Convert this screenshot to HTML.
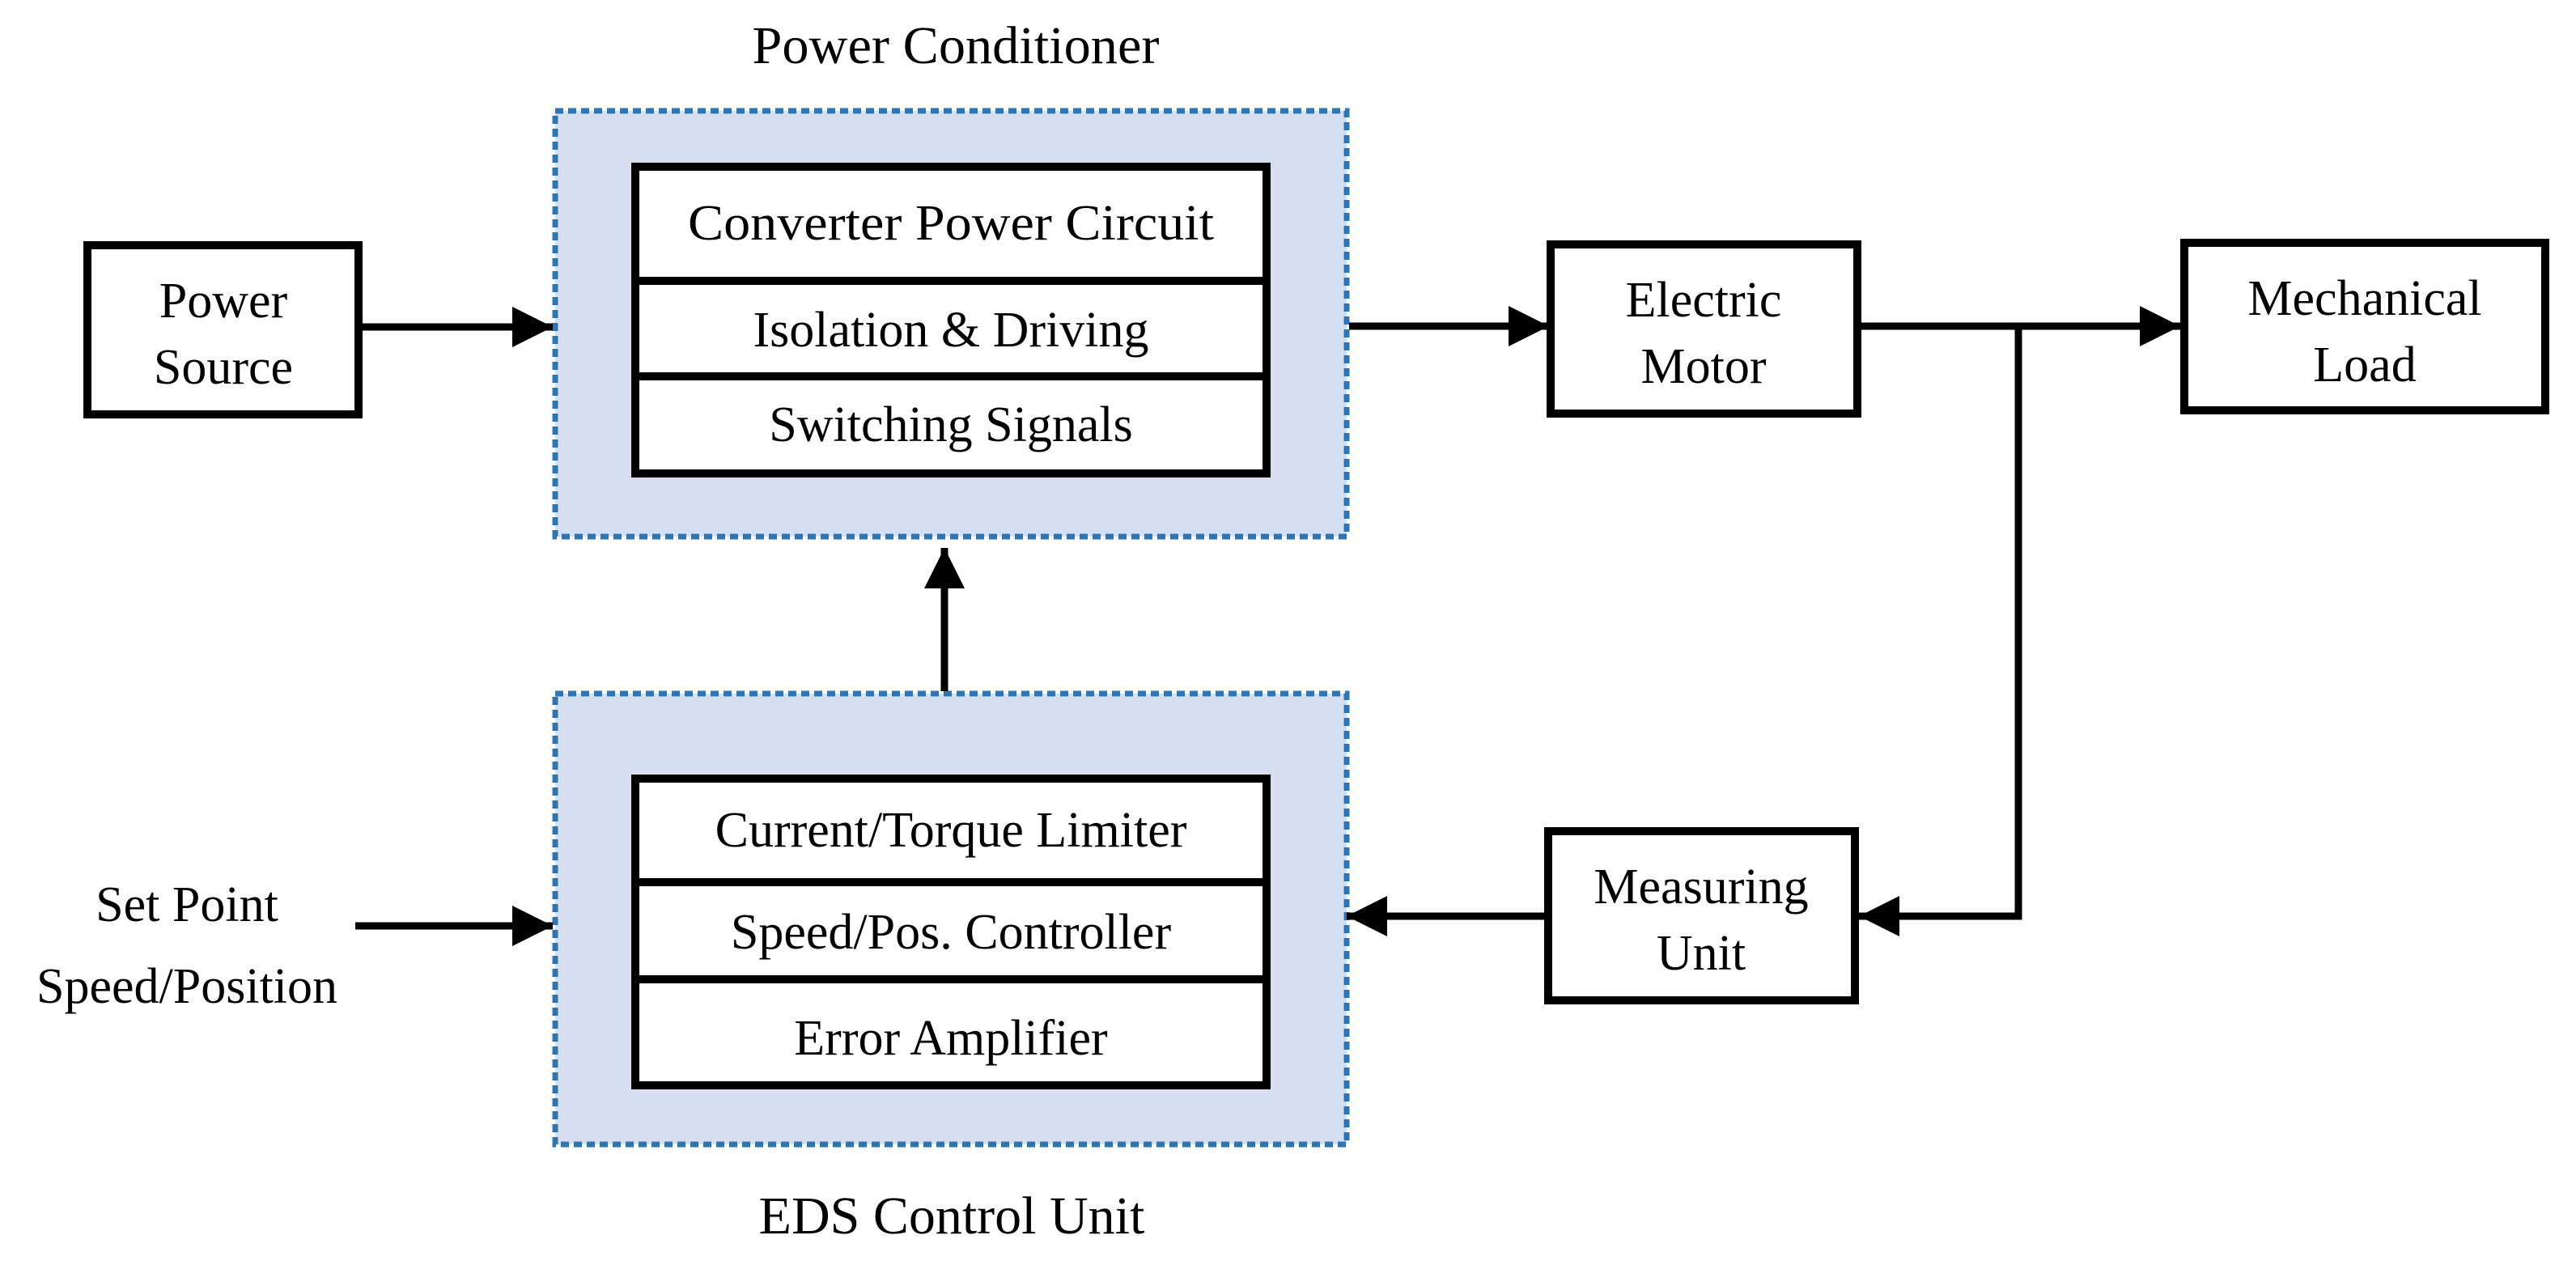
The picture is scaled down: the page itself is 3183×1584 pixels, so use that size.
<!DOCTYPE html>
<html><head><meta charset="utf-8"><style>
html,body{margin:0;padding:0;background:#fff;}
svg{display:block;}
text{font-family:"Liberation Serif",serif;fill:#000;}
</style></head><body>
<svg width="3183" height="1584" viewBox="0 0 3183 1584" xmlns="http://www.w3.org/2000/svg">
<defs>
<marker id="ah" viewBox="0 0 50 50" refX="50" refY="25" markerWidth="50" markerHeight="50" markerUnits="userSpaceOnUse" orient="auto">
<path d="M0,0 L50,25 L0,50 Z" fill="#000"/>
</marker>
</defs>
<rect x="686" y="137" width="978" height="526" fill="#d6dff0" stroke="#2e75b6" stroke-width="7" stroke-dasharray="10,6"/>
<rect x="686" y="857" width="978" height="557" fill="#d6dff0" stroke="#2e75b6" stroke-width="7" stroke-dasharray="10,6"/>

<g fill="#fff" stroke="#000" stroke-width="10">
<rect x="785" y="206" width="780" height="379"/>
<line x1="785" y1="347" x2="1565" y2="347"/>
<line x1="785" y1="465" x2="1565" y2="465"/>
<rect x="785" y="962" width="780" height="379"/>
<line x1="785" y1="1090" x2="1565" y2="1090"/>
<line x1="785" y1="1210" x2="1565" y2="1210"/>
<rect x="108" y="303" width="335" height="209"/>
<rect x="1916" y="302" width="379" height="209"/>
<rect x="2699" y="300" width="446" height="207"/>
<rect x="1913" y="1027" width="379" height="209"/>
</g>

<g stroke="#000" stroke-width="9" fill="none">
<line x1="443" y1="404" x2="683" y2="404" marker-end="url(#ah)"/>
<line x1="1667" y1="403" x2="1914" y2="403" marker-end="url(#ah)"/>
<line x1="2295" y1="403" x2="2694" y2="403" marker-end="url(#ah)"/>
<polyline points="2494,403 2494,1132 2297,1132" marker-end="url(#ah)"/>
<line x1="1913" y1="1132" x2="1664" y2="1132" marker-end="url(#ah)"/>
<line x1="1167" y1="854" x2="1167" y2="677" marker-end="url(#ah)"/>
<line x1="439" y1="1144" x2="683" y2="1144" marker-end="url(#ah)"/>
</g>

<g font-size="62" text-anchor="middle">
<text x="1181" y="78" font-size="66" textLength="503" lengthAdjust="spacingAndGlyphs">Power Conditioner</text>
<text x="1176" y="1524" font-size="66">EDS Control Unit</text>
<text x="1175" y="296" textLength="650" lengthAdjust="spacingAndGlyphs">Converter Power Circuit</text>
<text x="1175" y="428">Isolation &amp; Driving</text>
<text x="1175" y="545">Switching Signals</text>
<text x="1175" y="1046">Current/Torque Limiter</text>
<text x="1175" y="1172">Speed/Pos. Controller</text>
<text x="1175" y="1303">Error Amplifier</text>
<text x="276" y="392">Power</text>
<text x="276" y="474">Source</text>
<text x="2105" y="391">Electric</text>
<text x="2105" y="473">Motor</text>
<text x="2922" y="389">Mechanical</text>
<text x="2922" y="471">Load</text>
<text x="2102" y="1116">Measuring</text>
<text x="2102" y="1198">Unit</text>
<text x="231" y="1138">Set Point</text>
<text x="231" y="1239">Speed/Position</text>
</g>
</svg>
</body></html>
